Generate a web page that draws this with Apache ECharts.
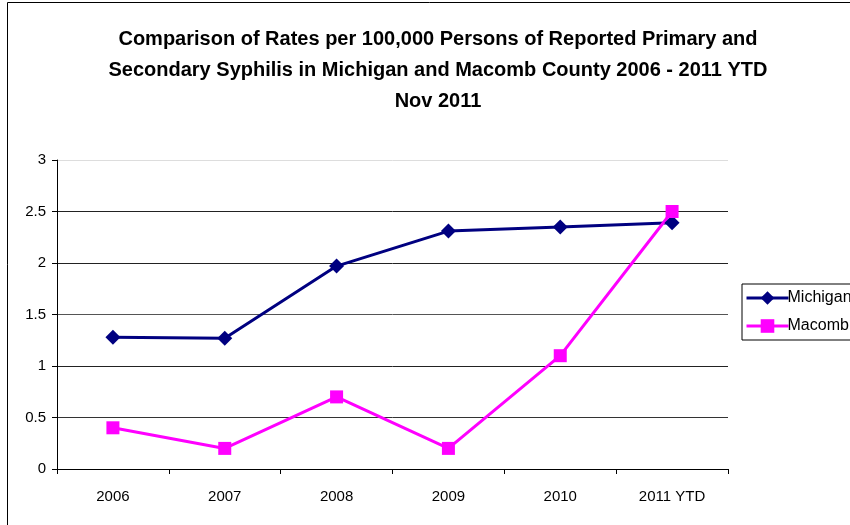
<!DOCTYPE html>
<html>
<head>
<meta charset="utf-8">
<script src="https://cdn.jsdelivr.net/npm/echarts@6/dist/echarts.min.js"></script>
<style>
  html, body { margin: 0; padding: 0; background: #fff; }
  #chart { width: 850px; height: 525px; }
</style>
</head>
<body>
<div id="chart"></div>
<script>
const years = ['2006', '2007', '2008', '2009', '2010', '2011 YTD'];
const michigan = [1.28, 1.27, 1.97, 2.31, 2.35, 2.39];
const macomb = [0.40, 0.20, 0.70, 0.20, 1.10, 2.50];
const yTicks = [0, 0.5, 1, 1.5, 2, 2.5, 3];

const chart = echarts.init(document.getElementById('chart'));
const font = 'Liberation Sans, Arial, sans-serif';

const option = {
  backgroundColor: '#fff',
  animation: false,
  graphic: [{
    type: 'rect',
    shape: { x: 7.5, y: 2.5, width: 900, height: 600 },
    style: { fill: 'none', stroke: '#000', lineWidth: 1 },
    silent: true
  }],
  title: {
    text: 'Comparison of Rates per 100,000 Persons of Reported Primary and\nSecondary Syphilis in Michigan and Macomb County 2006 - 2011 YTD\nNov 2011',
    left: 433,
    top: 19,
    textAlign: 'center',
    textStyle: {
      fontFamily: font,
      fontWeight: 'bold',
      fontSize: 20,
      lineHeight: 31,
      color: '#000'
    }
  },
  legend: {
    orient: 'vertical',
    left: 742,
    top: 284,
    padding: [6, 10, 6, 3],
    itemGap: 12,
    itemWidth: 42,
    itemHeight: 17,
    borderColor: '#000',
    borderWidth: 1,
    lineStyle: { width: 3 },
    textStyle: { fontFamily: font, fontSize: 16, color: '#000', padding: [0, 0, 0, -6] },
    data: ['Michigan', 'Macomb']
  },
  grid: { left: 57, right: 122, top: 160, bottom: 56 },
  xAxis: {
    type: 'category',
    data: years,
    boundaryGap: true,
    axisLine: { lineStyle: { color: '#000', width: 1 } },
    axisTick: { show: true, inside: false, length: 5, lineStyle: { color: '#000' } },
    axisLabel: { fontFamily: font, fontSize: 15, color: '#000', margin: 20 }
  },
  yAxis: {
    type: 'value',
    min: 0,
    max: 3,
    interval: 0.5,
    axisLine: { show: true, lineStyle: { color: '#000', width: 1 } },
    axisTick: { show: true, length: 5, lineStyle: { color: '#000' } },
    axisLabel: {
      fontFamily: font, fontSize: 15, color: '#000', margin: 11,
      formatter: v => yTicks.includes(v) ? String(v) : ''
    },
    splitLine: {
      lineStyle: {
        color: ['#222', '#333', '#222', '#555', '#222', '#222', '#ddd'],
        width: 1
      }
    }
  },
  series: [
    {
      name: 'Michigan',
      type: 'line',
      data: michigan,
      symbol: 'diamond',
      symbolSize: 15,
      itemStyle: { color: '#000080' },
      lineStyle: { color: '#000080', width: 3 }
    },
    {
      name: 'Macomb',
      type: 'line',
      data: macomb,
      symbol: 'rect',
      symbolSize: 13,
      itemStyle: { color: '#ff00ff' },
      lineStyle: { color: '#ff00ff', width: 3 }
    }
  ]
};

chart.setOption(option);
</script>
</body>
</html>
